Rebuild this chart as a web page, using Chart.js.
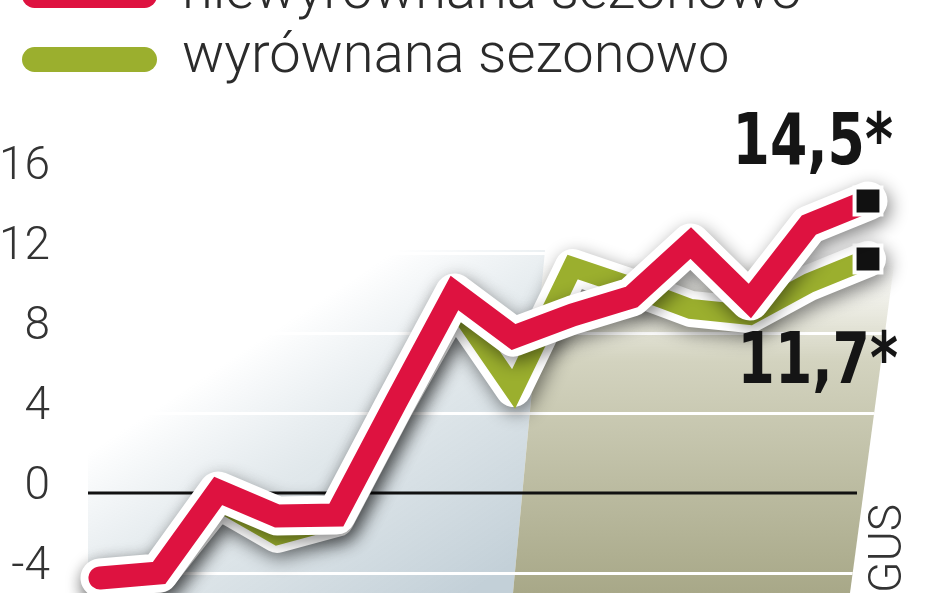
<!DOCTYPE html>
<html lang="pl">
<head>
<meta charset="UTF-8">
<title>Produkcja – niewyrównana i wyrównana sezonowo</title>
<script src="https://cdn.jsdelivr.net/npm/chart.js@4"></script>
<style>
    html, body { margin: 0; padding: 0; background: #fff; overflow: hidden; }
    .wrap { position: relative; width: 948px; height: 593px; overflow: hidden; }
    .wrap canvas { position: absolute; left: 0; top: 0; }
    .legend { position: absolute; left: 0; top: 0; width: 948px; height: 100px;
              font-family: Roboto, 'Noto Sans', sans-serif; font-weight: 300; color: #2b2b2b; }
    .legend-pill { position: absolute; left: 22px; width: 135px; height: 25px; border-radius: 13px; }
    .legend-text { position: absolute; left: 182px; font-size: 56px; line-height: 56px; white-space: nowrap; }
</style>
</head>
<body>
<div class="wrap">
    <canvas id="chart" width="948" height="593"></canvas>
    <div class="legend" id="legend"></div>
</div>
<script>
// data
const periods = ['1', '2', '3', '4', '5', '6', '7', '8', '9', '10', '11', '12', '13', '14'];
const niewyrownana = [-4.25, -4.0, 0.1, -1.15, -1.1, 4.5, 10.0, 7.8, 8.9, 9.8, 12.5, 9.6, 13.4, 14.6];
const wyrownana = [-4.3, -4.1, -0.4, -2.1, -1.3, 4.3, 9.5, 5.2, 11.3, 10.3, 9.2, 8.9, 10.5, 11.7];
const yTicks = [-4, 0, 4, 8, 12, 16];
const seriesNames = ['niewyrównana sezonowo', 'wyrównana sezonowo'];
const endLabels = ['14,5*', '11,7*'];
const sourceText = 'GUS';

const RED = '#de1240';
const GREEN = '#9baf2e';

// white casing + soft shadow under each coloured line
const casingShadow = {
    id: 'casingShadow',
    beforeDatasetDraw(chart, args) {
        if (!chart.data.datasets[args.index].casing) return;
        const ctx = chart.ctx;
        ctx.save();
        ctx.shadowColor = 'rgba(0,0,0,0.48)';
        ctx.shadowBlur = 18;
        ctx.shadowOffsetX = 3;
        ctx.shadowOffsetY = 6;
    },
    afterDatasetDraw(chart, args) {
        if (!chart.data.datasets[args.index].casing) return;
        chart.ctx.restore();
    }
};

// shaded panels, white grid lines and the zero line
const backdrop = {
    id: 'backdrop',
    beforeDatasetsDraw(chart) {
        const { ctx, chartArea, scales: { y } } = chart;
        const bottom = chart.height;
        const top = 250;
        const left = chartArea.left - 12;

        const bluePanel = new Path2D();
        bluePanel.moveTo(left, top);
        bluePanel.lineTo(545, top);
        bluePanel.lineTo(513, bottom);
        bluePanel.lineTo(left, bottom);
        bluePanel.closePath();

        const olivePanel = new Path2D();
        olivePanel.moveTo(545, top);
        olivePanel.lineTo(896, top);
        olivePanel.lineTo(850, bottom);
        olivePanel.lineTo(513, bottom);
        olivePanel.closePath();

        ctx.save();
        const blue = ctx.createLinearGradient(290, 320, 470, bottom);
        blue.addColorStop(0, 'rgba(214,224,230,0)');
        blue.addColorStop(0.4, 'rgba(220,228,232,0.85)');
        blue.addColorStop(1, '#c3d0d8');
        ctx.fillStyle = blue;
        ctx.fill(bluePanel);

        const olive = ctx.createLinearGradient(0, 262, 0, bottom);
        olive.addColorStop(0, 'rgba(214,214,196,0)');
        olive.addColorStop(0.3, '#d3d3bf');
        olive.addColorStop(1, '#a8a888');
        ctx.fillStyle = olive;
        ctx.fill(olivePanel);

        // white grid lines, only visible over the panels
        const both = new Path2D();
        both.addPath(bluePanel);
        both.addPath(olivePanel);
        ctx.save();
        ctx.clip(both);
        ctx.strokeStyle = '#ffffff';
        ctx.lineWidth = 3;
        y.ticks.forEach(t => {
            if (t.value === 0) return;
            const py = Math.round(y.getPixelForValue(t.value)) + 0.5;
            ctx.beginPath();
            ctx.moveTo(left, py);
            ctx.lineTo(910, py);
            ctx.stroke();
        });
        ctx.restore();

        // zero line
        const y0 = y.getPixelForValue(0);
        ctx.strokeStyle = '#111';
        ctx.lineWidth = 3;
        ctx.beginPath();
        ctx.moveTo(left, y0);
        ctx.lineTo(chartArea.right - 11, y0);
        ctx.stroke();
        ctx.restore();
    }
};

// end values next to the black squares, and the source
const endNotes = {
    id: 'endNotes',
    afterDatasetsDraw(chart, args, opts) {
        const ctx = chart.ctx;
        ctx.save();
        ctx.font = 'bold 71px "Liberation Sans Narrow", "DejaVu Sans Condensed", sans-serif';
        ctx.fillStyle = '#151515';
        ctx.textAlign = 'right';
        ctx.textBaseline = 'alphabetic';
        opts.series.forEach((s, i) => {
            const meta = chart.getDatasetMeta(s.dataset);
            const pt = meta.data[meta.data.length - 1];
            ctx.save();
            ctx.translate(pt.x + s.dx, pt.y + s.dy);
            ctx.scale(0.84, 1);
            ctx.fillText(endLabels[i], 0, 0);
            ctx.restore();
        });

        ctx.font = '300 46px Roboto, sans-serif';
        ctx.fillStyle = '#333';
        ctx.textAlign = 'left';
        ctx.translate(901, chart.height);
        ctx.rotate(-Math.PI / 2);
        ctx.fillText(sourceText, 0, 0);
        ctx.restore();
    }
};

const lastIdx = periods.length - 1;
const endSquare = (size) => (c) => (c.dataIndex === lastIdx ? size : 0);

const chart = new Chart(document.getElementById('chart'), {
    type: 'line',
    data: {
        labels: periods,
        datasets: [
            {
                label: seriesNames[0],
                data: niewyrownana,
                borderColor: RED,
                borderWidth: 23,
                borderCapStyle: 'round',
                borderJoinStyle: 'miter',
                pointStyle: 'rect',
                pointRadius: endSquare(19),
                pointBackgroundColor: '#111',
                pointBorderColor: '#fff',
                pointBorderWidth: 4,
                order: 0,
                clip: false
            },
            {
                label: seriesNames[0],
                data: niewyrownana,
                casing: true,
                borderColor: '#fff',
                borderWidth: 39,
                borderCapStyle: 'round',
                borderJoinStyle: 'round',
                pointRadius: 0,
                order: 1,
                clip: false
            },
            {
                label: seriesNames[1],
                data: wyrownana,
                borderColor: GREEN,
                borderWidth: 20,
                borderCapStyle: 'round',
                borderJoinStyle: 'miter',
                pointStyle: 'rect',
                pointRadius: endSquare(19),
                pointBackgroundColor: '#111',
                pointBorderColor: '#fff',
                pointBorderWidth: 4,
                order: 2,
                clip: false
            },
            {
                label: seriesNames[1],
                data: wyrownana,
                casing: true,
                borderColor: '#fff',
                borderWidth: 36,
                borderCapStyle: 'round',
                borderJoinStyle: 'round',
                pointRadius: 0,
                order: 3,
                clip: false
            }
        ]
    },
    options: {
        responsive: false,
        animation: false,
        devicePixelRatio: 1,
        layout: { autoPadding: false, padding: { left: 0, right: 80, top: 0, bottom: 0 } },
        elements: { line: { tension: 0 } },
        scales: {
            x: { display: false },
            y: {
                min: -5,
                max: 24.65,
                afterBuildTicks: s => { s.ticks = yTicks.map(v => ({ value: v })); },
                afterFit: s => { s.width = 100; s.paddingTop = 0; s.paddingBottom = 0; },
                grid: { display: false, drawTicks: false },
                border: { display: false },
                ticks: {
                    padding: 50,
                    labelOffset: -6,
                    color: '#333',
                    font: { family: 'Roboto', size: 46, weight: 300 },
                    callback: v => String(v)
                }
            }
        },
        plugins: {
            legend: { display: false },
            tooltip: { enabled: false },
            endNotes: {
                series: [
                    { dataset: 0, dx: 25, dy: -37 },
                    { dataset: 2, dx: 30, dy: 124 }
                ]
            }
        }
    },
    plugins: [backdrop, casingShadow, endNotes]
});

// html legend built from the chart's own datasets
const legendBox = document.getElementById('legend');
chart.data.datasets.filter(d => !d.casing).forEach((d, i) => {
    const centre = -4.5 + 64 * i;
    const pill = document.createElement('div');
    pill.className = 'legend-pill';
    pill.style.top = (centre - 12.5) + 'px';
    pill.style.background = d.borderColor;
    const text = document.createElement('div');
    text.className = 'legend-text';
    text.style.top = (centre - 35) + 'px';
    text.textContent = d.label;
    legendBox.appendChild(pill);
    legendBox.appendChild(text);
});
</script>
</body>
</html>
